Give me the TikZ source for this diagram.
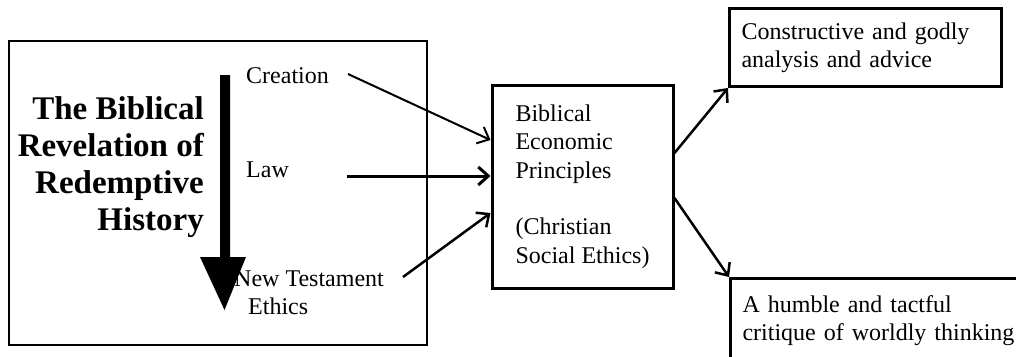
\documentclass[tikz,border=0pt]{standalone}
\usepackage{fontspec}
\setmainfont{Liberation Serif}
\usetikzlibrary{arrows.meta}
\begin{document}
\begin{tikzpicture}[x=1pt,y=-1pt,
  txt/.style={font=\fontsize{24}{28.3}\selectfont, inner sep=0pt, align=left},
  thickbox/.style={draw, line width=3pt, inner sep=0pt},
  conn/.style={-{Straight Barb[length=10pt,width=18pt]}, line width=2.2pt}
]
\useasboundingbox (0,0) rectangle (1016,356);
\clip (0,0) rectangle (1016,356);
\fill[white] (0,0) rectangle (1016,356);

% left frame
\node[draw, line width=1.5pt, inner sep=0pt, minimum width=418pt, minimum height=304pt, anchor=north west] (frame) at (8,40) {};

% title
\node[font=\fontsize{33}{37}\selectfont\bfseries, inner sep=0pt, align=right, anchor=east] (title) at (204,167)
  {The Biblical\\Revelation of\\Redemptive\\History};

% big time arrow
\fill (220,75) -- (230,75) -- (230,257) -- (246,257) -- (224.5,310) -- (200,257) -- (220,257) -- cycle;

% stages
\node[txt, anchor=west] (creation) at (246,76) {Creation};
\node[txt, anchor=west] (law) at (246,170) {Law};
\node[txt, anchor=west] (nt) at (234,292.5) {New Testament\\\hspace*{14pt}Ethics};

% middle box
\node[thickbox, txt, minimum width=181pt, minimum height=203pt] (mid) at (582.5,186.5)
  {Biblical\\Economic\\Principles\\[28.3pt](Christian\\Social Ethics)};

% right boxes
\node[thickbox, txt, text width=248pt, inner xsep=12pt, minimum height=78pt, anchor=north west] (top) at (728,7)
  {Constructive and godly\\analysis and advice};
\node[thickbox, txt, text width=300pt, inner xsep=12pt, minimum height=84pt, anchor=north west] (bot) at (729,277)
  {A humble and tactful\\critique of worldly thinking};

% connector start points
\coordinate (cs) at (348,74);
\coordinate (ls) at (347,176);
\coordinate (ns) at (403,277);

\draw[conn, line width=2pt] (cs) -- ([yshift=46.5pt]mid.west);
\draw[conn, line width=3pt] (ls) -- ([yshift=10.5pt]mid.west);
\draw[conn, line width=2.5pt] (ns) -- ([yshift=-26.5pt]mid.west);

\draw[conn, line width=2.5pt] ([yshift=33.5pt]mid.east) -- (top.south west);
\draw[conn, line width=2.5pt] ([yshift=-11.5pt]mid.east) -- (bot.north west);
\end{tikzpicture}
\end{document}
